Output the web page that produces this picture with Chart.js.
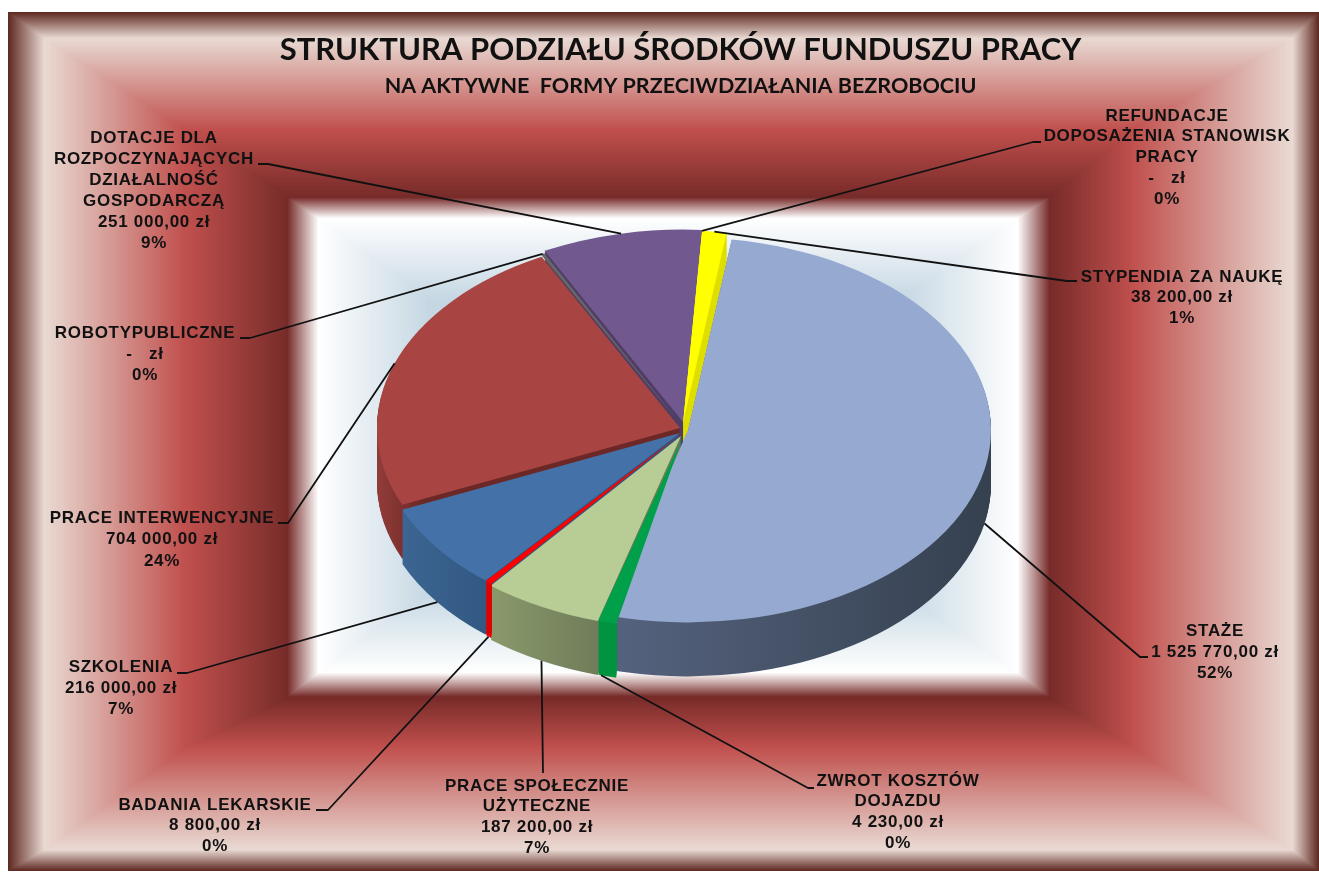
<!DOCTYPE html>
<html lang="pl"><head><meta charset="utf-8"><title>Struktura podziału środków Funduszu Pracy</title>
<style>html,body{margin:0;padding:0;background:#fff}canvas{display:block}</style>
<script src="https://cdn.jsdelivr.net/npm/chart.js@4"></script></head>
<body><canvas id="c" width="1319" height="872"></canvas>
<script>
const categories = ["Refundacje doposażenia stanowisk pracy","Stypendia za naukę","Staże","Zwrot kosztów dojazdu","Prace społecznie użyteczne","Badania lekarskie","Szkolenia","Prace interwencyjne","Roboty publiczne","Dotacje dla rozpoczynających działalność gospodarczą"];
const values = [0,38200,1525770,4230,187200,8800,216000,704000,0,251000];
const labelLines = [
 ["REFUNDACJE","DOPOSAŻENIA STANOWISK","PRACY","-   zł","0%"],
 ["STYPENDIA ZA NAUKĘ","38 200,00 zł","1%"],
 ["STAŻE","1 525 770,00 zł","52%"],
 ["ZWROT KOSZTÓW","DOJAZDU","4 230,00 zł","0%"],
 ["PRACE SPOŁECZNIE","UŻYTECZNE","187 200,00 zł","7%"],
 ["BADANIA LEKARSKIE","8 800,00 zł","0%"],
 ["SZKOLENIA","216 000,00 zł","7%"],
 ["PRACE INTERWENCYJNE","704 000,00 zł","24%"],
 ["ROBOTYPUBLICZNE","-   zł","0%"],
 ["DOTACJE DLA","ROZPOCZYNAJĄCYCH","DZIAŁALNOŚĆ","GOSPODARCZĄ","251 000,00 zł","9%"]];
const titleText = "STRUKTURA PODZIAŁU ŚRODKÓW FUNDUSZU PRACY";
const subtitleText = "NA AKTYWNE  FORMY PRZECIWDZIAŁANIA BEZROBOCIU";

// styling
const topColors  = ["#ffff00","#ffff00","#95a9d1","#00a04a","#b8cd96","#ff0000","#4472a8","#a84542","#666666","#71588f"];
const wallColors = [["#dede00","#dede00"],["#dede00","#dede00"],["#56637f","#35414f"],["#009440","#009440"],["#8b9a6c","#6d7a58"],["#e00000","#e00000"],["#3d6693","#30567f"],["#8f3b38","#6b2826"],["#555555","#555555"],["#4f3d66","#4f3d66"]];
const wallSpan = [[0,1],[0,1],[-0.25,1],[0,1],[-0.65,-0.25],[0,1],[-0.95,-0.6],[-1,-0.85],[0,1],[0,1]];
const explode = [[0,-8],[0,-8],[5,-1],[0,5],[-2,5],[-2,3],[-3,2],[-3,-3],[-2,-6],[0,-9]];
// degrees added at the start / end of thin slices so they stay visible
const widenStart = [0,0,0,2.7,0,0.15,0,0,0.35,0];
const widenEnd   = [0,0,0,0.3,0,0.15,0,0,0.35,0];
const rimOnly = [false,false,false,true,false,true,false,false,true,false];
const drawOrder = [9,1,7,8,6,4,5,2,3];
const pie = {cx:683, cy:431, k:0.635, depth:54, r:303};
const frameBands = [
 {a:[8,12,1319,871],c0:"#5f2a22",b:[44,38,1293,850],c1:"#e9dad3"},
 {a:[44,38,1293,850],c0:"#e9dad3",b:[185,130,1133,747],c1:"#c0504d"},
 {a:[185,130,1133,747],c0:"#c0504d",b:[287,197,1050,697],c1:"#772c2a"},
 {a:[287,197,1050,697],c0:"#772c2a",b:[318,218,1018,673],c1:"#ffffff"},
 {a:[318,218,1018,673],c0:"#ffffff",b:[430,300,900,590],c1:"#c5d7e3"},
 {a:[430,300,900,590],c0:"#c5d7e3",b:[668,445,669,446],c1:"#b5cbdc"}];
// label centre x, first line y, line step, leader: elbow x, elbow y, end x
const labelPos = [
 [1167,116,20.8,1033,142,1041],
 [1182,277,20.5,1067,281,1077],
 [1215,631,21,1140,657,1148],
 [898,781,20.7,808,788,814],
 [537,786,20.7,543,773,543],
 [215,805,20.5,328,810,316],
 [121,667,21,187,673,177],
 [162,518,21.5,288,523,278],
 [145,333,21,250,338,240],
 [154,138,21,268,164,258]];

function hex(c){return [1,3,5].map(i=>parseInt(c.substr(i,2),16));}
const bgPlugin = {id:'frame', beforeDraw(chart){
  const ctx=chart.ctx; ctx.save();
  frameBands.forEach(B=>{
    const n=Math.max(...B.a.map((v,i)=>Math.abs(v-B.b[i])))|0;
    const c0=hex(B.c0),c1=hex(B.c1);
    for(let s=0;s<=n;s++){
      const t=s/Math.max(n,1);
      const r=B.a.map((v,i)=>v+(B.b[i]-v)*t), c=c0.map((v,i)=>Math.round(v+(c1[i]-v)*t));
      ctx.fillStyle=`rgb(${c})`; ctx.fillRect(r[0],r[1],r[2]-r[0],r[3]-r[1]);
    }
  });
  ctx.restore();
}};
const pie3d = {id:'pie3d',
 beforeDatasetDraw(chart,args){
  const ctx=chart.ctx, arcs=args.meta.data, P=pie, D=Math.PI/180;
  const drawArc=(el,i,fill,dy)=>{
    const sa=el.startAngle, ea=el.endAngle, ci=el.circumference, op=el.options;
    el.startAngle=sa-widenStart[i]*D; el.endAngle=ea+widenEnd[i]*D; el.circumference=el.endAngle-el.startAngle;
    el.options={backgroundColor:fill,borderColor:fill,borderWidth:0,offset:0,spacing:0,borderAlign:'center',borderRadius:0,circular:true,borderDash:[],borderDashOffset:0,borderJoinStyle:'round',selfJoin:false};
    ctx.save();
    ctx.translate(P.cx+explode[i][0],P.cy+explode[i][1]+dy);
    ctx.scale(1,P.k);
    ctx.translate(-el.x,-el.y);
    el.draw(ctx);
    ctx.restore();
    el.startAngle=sa; el.endAngle=ea; el.circumference=ci; el.options=op;
  };
  drawOrder.forEach(i=>{
    const el=arcs[i];
    const shift=P.cx+explode[i][0]-el.x;
    const g=ctx.createLinearGradient(P.cx+P.r*wallSpan[i][0]-shift,0,P.cx+P.r*wallSpan[i][1]-shift,0);
    g.addColorStop(0,wallColors[i][0]); g.addColorStop(1,wallColors[i][1]);
    ctx.save();
    if(rimOnly[i]){ // thin slices: only the rim wall shows, as a vertical strip below the rim
      const ccx=P.cx+explode[i][0];
      const x0=ccx+P.r*Math.cos(el.startAngle-widenStart[i]*D), x1=ccx+P.r*Math.cos(el.endAngle+widenEnd[i]*D);
      ctx.beginPath();
      ctx.rect(Math.min(x0,x1),0,Math.abs(x1-x0),chart.height);
      ctx.clip();
      ctx.beginPath();
      ctx.rect(0,0,chart.width,chart.height);
      ctx.ellipse(ccx,P.cy+explode[i][1],P.r,P.r*P.k,0,0,Math.PI*2);
      ctx.clip('evenodd');
    }
    for(let d=P.depth;d>=1;d--) drawArc(el,i,g,d);
    ctx.restore();
    drawArc(el,i,topColors[i],0);
  });
  return false;
 },
 afterDraw(chart){
  const ctx=chart.ctx, arcs=chart.getDatasetMeta(0).data, P=pie;
  ctx.save();
  ctx.strokeStyle='#111'; ctx.lineWidth=1.8; ctx.lineJoin='round';
  arcs.forEach((el,i)=>{
    const a=(el.startAngle+el.endAngle)/2, L=labelPos[i];
    const sy=Math.sin(a);
    const x=P.cx+explode[i][0]+P.r*Math.cos(a);
    const y=P.cy+explode[i][1]+P.k*P.r*sy+(sy>0?P.depth:0);
    ctx.beginPath(); ctx.moveTo(x,y); ctx.lineTo(L[3],L[4]); ctx.lineTo(L[5],L[4]); ctx.stroke();
  });
  ctx.fillStyle='#111'; ctx.textAlign='center'; ctx.textBaseline='middle';
  ctx.font='bold 17px "Liberation Sans"';
  ctx.letterSpacing='0.7px';
  labelLines.forEach((lines,i)=>{
    const L=labelPos[i];
    lines.forEach((t,j)=>ctx.fillText(t,L[0],L[1]+j*L[2]));
  });
  ctx.restore();
 }};

new Chart(document.getElementById('c'),{
 type:'pie',
 data:{labels:categories,datasets:[{data:values,backgroundColor:topColors,borderWidth:0}]},
 plugins:[bgPlugin,pie3d],
 options:{responsive:false,animation:false,events:[],rotation:3.6,radius:pie.r,
  layout:{padding:{left:42,right:0,top:0,bottom:0}},
  plugins:{legend:{display:false},tooltip:{enabled:false},
   title:{display:true,text:titleText,color:'#111',font:{family:'Lato',size:31,weight:'bold'},padding:{top:31,bottom:5}},
   subtitle:{display:true,text:subtitleText,color:'#111',font:{family:'Lato',size:21.5,weight:'bold'},padding:{top:0,bottom:0}}
  }}
});
</script></body></html>
